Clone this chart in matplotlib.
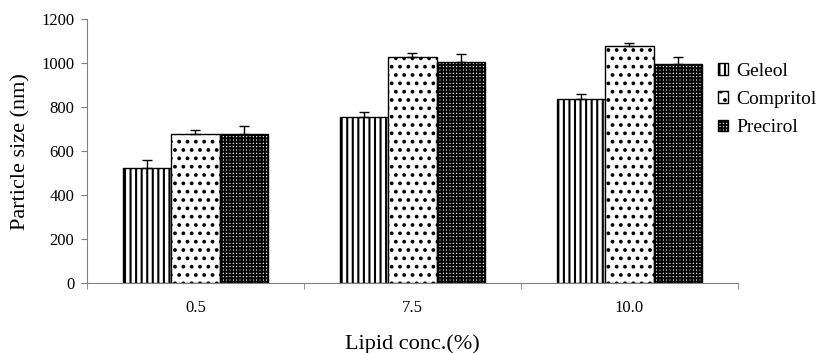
import numpy as np
import matplotlib.pyplot as plt

plt.rcParams['font.family'] = ['Liberation Serif', 'DejaVu Serif']
plt.rcParams['hatch.linewidth'] = 1.5

# ---------- DATA ----------
categories = ["0.5", "7.5", "10.0"]
series = ["Geleol", "Compritol", "Precirol"]
geleol = [525, 754, 838]
compritol = [678, 1028, 1081]
precirol = [678, 1005, 999]
geleol_err = [35, 25, 24]
compritol_err = [19, 18, 12]
precirol_err = [37, 36, 29]

values = [geleol, compritol, precirol]
errors = [geleol_err, compritol_err, precirol_err]
hatches = ["|||", "..", "+++++"]

# ---------- PLOT ----------
fig = plt.figure(figsize=(8.2, 3.53), dpi=100)
ax = fig.add_axes([0.106, 0.198, 0.794, 0.747])

x = np.arange(len(categories))
width = 0.222
for i, (name, vals, err, h) in enumerate(zip(series, values, errors, hatches)):
    pos = x + (i - 1) * width
    ax.bar(pos, vals, width, facecolor="white", edgecolor="black",
           linewidth=1.0, hatch=h, label=name)
    ax.errorbar(pos, vals, yerr=[np.zeros(len(err)), err], fmt="none",
                ecolor="black", elinewidth=1.0, capsize=3.8, capthick=1.0)

ax.set_xlim(-0.5, len(categories) - 0.5)
ax.set_ylim(0, 1200)
ax.set_yticks(np.arange(0, 1201, 200))
ax.tick_params(axis="y", labelsize=12, length=4, color="#808080", pad=5)

ax.set_xticks(x)
ax.set_xticklabels(categories)
ax.set_xticks(np.arange(-0.5, len(categories), 1), minor=True)
ax.tick_params(axis="x", which="major", length=0, labelsize=12, pad=12)
ax.tick_params(axis="x", which="minor", length=4, color="#808080", direction="out")

for s in ["top", "right"]:
    ax.spines[s].set_visible(False)
for s in ["left", "bottom"]:
    ax.spines[s].set_color("#808080")

ax.set_ylabel("Particle size (nm)", fontsize=16, labelpad=8)
ax.set_xlabel("Lipid conc.(%)", fontsize=16, labelpad=13)

ax.legend(loc="upper left", bbox_to_anchor=(0.957, 0.865), frameon=False,
          fontsize=14, handlelength=0.55, handleheight=0.55, handletextpad=0.4,
          labelspacing=0.58, borderaxespad=0)

fig.savefig("out.png", dpi=100)
